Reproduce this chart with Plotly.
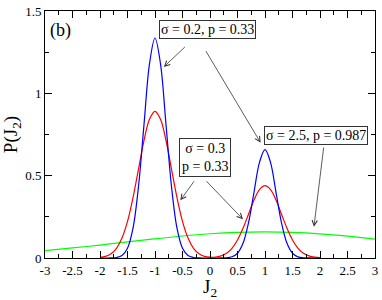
import plotly.graph_objects as go

# J2 grid for the two narrow distributions
x_narrow = [-2.0, -1.9, -1.8, -1.7, -1.6, -1.5, -1.4, -1.3, -1.2, -1.1, -1.0,
            -0.9, -0.8, -0.7, -0.6, -0.5, -0.4, -0.3, -0.2, -0.1, 0.0,
            0.1, 0.2, 0.3, 0.4, 0.5, 0.6, 0.7, 0.8, 0.9, 1.0,
            1.1, 1.2, 1.3, 1.4, 1.5, 1.6, 1.7, 1.8, 1.9, 2.0]

# sigma = 0.2, p = 0.33 (blue)
p_blue = [0.0, 0.0001, 0.0004, 0.003, 0.015, 0.059, 0.181, 0.434, 0.810, 1.179, 1.336,
          1.179, 0.810, 0.434, 0.181, 0.059, 0.015, 0.003, 0.0004, 0.0001, 0.0,
          0.0, 0.0002, 0.0014, 0.0073, 0.029, 0.089, 0.214, 0.399, 0.581, 0.658,
          0.581, 0.399, 0.214, 0.089, 0.029, 0.007, 0.0014, 0.0002, 0.0, 0.0]

# sigma = 0.3, p = 0.33 (red)
p_red = [0.0034, 0.0099, 0.026, 0.059, 0.121, 0.222, 0.366, 0.540, 0.713, 0.843, 0.891,
         0.843, 0.713, 0.540, 0.366, 0.222, 0.121, 0.059, 0.026, 0.010, 0.005,
         0.006, 0.013, 0.029, 0.059, 0.109, 0.180, 0.266, 0.352, 0.415, 0.439,
         0.415, 0.352, 0.266, 0.180, 0.109, 0.059, 0.029, 0.013, 0.005, 0.002]

# sigma = 2.5, p = 0.987 (green)
x_wide = [-3.0, -2.5, -2.0, -1.5, -1.0, -0.5, 0.0, 0.5, 1.0, 1.5, 2.0, 2.5, 3.0]
p_green = [0.0453, 0.0609, 0.0786, 0.0976, 0.1165, 0.1336, 0.1473,
           0.1561, 0.1590, 0.1557, 0.1464, 0.1324, 0.1150]

x_tickvals = [-3, -2.5, -2, -1.5, -1, -0.5, 0, 0.5, 1, 1.5, 2, 2.5, 3]
x_ticktext = ["-3", "-2.5", "-2", "-1.5", "-1", "-0.5", "0", "0.5", "1", "1.5", "2", "2.5", "3"]
y_tickvals = [0, 0.5, 1, 1.5]
y_ticktext = ["0", "0.5", "1", "1.5"]

FONT = "Liberation Serif, Times New Roman, Times, serif"

fig = go.Figure()
fig.add_trace(go.Scatter(x=x_wide, y=p_green, mode="lines",
                         line=dict(color="#00ff00", width=1.2, shape="spline"),
                         showlegend=False))
fig.add_trace(go.Scatter(x=x_narrow, y=p_red, mode="lines",
                         line=dict(color="#ff0000", width=1.2, shape="spline"),
                         showlegend=False))
fig.add_trace(go.Scatter(x=x_narrow, y=p_blue, mode="lines",
                         line=dict(color="#0000ff", width=1.2, shape="spline"),
                         showlegend=False))

axis_common = dict(
    showline=True, linecolor="black", linewidth=1, mirror="allticks",
    ticks="inside", ticklen=7, tickcolor="black", tickwidth=1,
    showgrid=False, zeroline=False, ticklabeloverflow="allow",
    tickfont=dict(family=FONT, size=13, color="black"),
    minor=dict(ticks="inside", ticklen=4, dtick=0.25, tickcolor="black", showgrid=False),
)

fig.update_xaxes(range=[-3, 3], tickvals=x_tickvals, ticktext=x_ticktext,
                 title=dict(text="J<sub>2</sub>", font=dict(family=FONT, size=19, color="black"),
                            standoff=0),
                 **axis_common)
fig.update_yaxes(range=[0, 1.5], tickvals=y_tickvals, ticktext=y_ticktext,
                 title=dict(text="P(J<sub>2</sub>)", font=dict(family=FONT, size=19, color="black"),
                            standoff=4),
                 **axis_common)

box_font = dict(family=FONT, size=14, color="black")
annotations = [
    dict(x=-2.71, y=1.38, xref="x", yref="y", text="(b)", showarrow=False,
         font=dict(family=FONT, size=18, color="black")),
    dict(x=-0.05, y=1.385, xref="x", yref="y", text="σ = 0.2, p = 0.33", showarrow=False,
         font=box_font, bordercolor="#333333", borderwidth=1, borderpad=1, bgcolor="white"),
    dict(x=1.93, y=0.745, xref="x", yref="y", text="σ = 2.5, p = 0.987", showarrow=False,
         font=box_font, bordercolor="#333333", borderwidth=1, borderpad=1, bgcolor="white"),
    dict(x=-0.10, y=0.61, xref="x", yref="y", text="σ = 0.3<br>p = 0.33", showarrow=False,
         font=box_font, bordercolor="#333333", borderwidth=1, borderpad=2, bgcolor="white"),
]

arrows = [
    ((-0.43, 1.29), (-0.84, 1.16)),
    ((-0.09, 1.265), (0.92, 0.70)),
    ((2.07, 0.68), (1.89, 0.19)),
    ((-0.27, 0.475), (-0.54, 0.35)),
    ((-0.09, 0.475), (0.60, 0.235)),
]
for (tx, ty), (hx, hy) in arrows:
    annotations.append(dict(x=hx, y=hy, ax=tx, ay=ty, xref="x", yref="y", axref="x", ayref="y",
                            text="", showarrow=True, arrowhead=5, arrowsize=1.3,
                            arrowwidth=0.8, arrowcolor="#333333"))

fig.update_layout(
    width=382, height=300,
    margin=dict(l=45, r=4, t=5, b=42),
    paper_bgcolor="white", plot_bgcolor="white",
    annotations=annotations,
    font=dict(family=FONT),
)

fig.write_html("out.html", config={"displayModeBar": False},
               post_script="document.body.style.margin='0';document.body.style.overflow='hidden';")
